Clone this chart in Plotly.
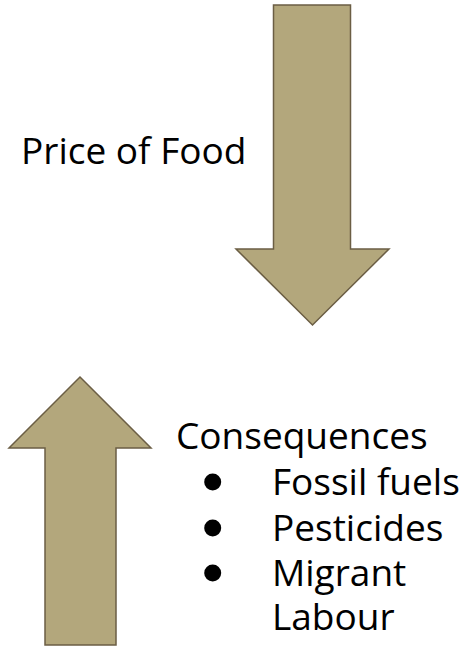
import plotly.graph_objects as go

# Text content
title_label = "Price of Food"
heading_label = "Consequences"
bullet_items = ["Fossil fuels", "Pesticides", "Migrant"]
continuation = "Labour"

W, H = 470, 646
FILL = "#b3a77c"
EDGE = "#6b5e44"
FONT = "Open Sans"

fig = go.Figure()

def arrow_path(pts):
    return "M " + " L ".join(f"{x},{y}" for x, y in pts) + " Z"

down_arrow = [(273.5, 5), (350.5, 5), (350.5, 249), (389, 249), (312.5, 325),
              (236, 249), (273.5, 249)]
up_arrow = [(80, 377), (151, 448), (116, 448), (116, 645), (45, 645), (45, 448), (9, 448)]

for pts in (down_arrow, up_arrow):
    fig.add_shape(type="path", path=arrow_path(pts), xref="x", yref="y",
                  fillcolor=FILL, line=dict(color=EDGE, width=1.5))

def add_text(txt, x, baseline):
    fig.add_annotation(x=x, y=baseline - 12, text=txt, showarrow=False,
                       xanchor="left", yanchor="middle", xref="x", yref="y",
                       font=dict(family=FONT, size=37, color="#000000"))

add_text(title_label, 19, 161)
add_text(heading_label, 174, 446)
baselines = [492, 538, 583]
for item, b in zip(bullet_items, baselines):
    add_text(item, 270, b)
add_text(continuation, 270, 627)

fig.add_trace(go.Scatter(x=[212.7] * 3, y=[b - 10 for b in baselines], mode="markers",
                         marker=dict(size=17, color="#000000"), hoverinfo="skip",
                         showlegend=False))

fig.update_layout(width=W, height=H, margin=dict(l=0, r=0, t=0, b=0),
                  paper_bgcolor="white", plot_bgcolor="white",
                  xaxis=dict(range=[0, W], visible=False, fixedrange=True),
                  yaxis=dict(range=[H, 0], visible=False, fixedrange=True),
                  showlegend=False)

fig.write_html("out.html", config={"displayModeBar": False},
               post_script="document.body.style.margin='0';document.body.style.overflow='hidden';")
